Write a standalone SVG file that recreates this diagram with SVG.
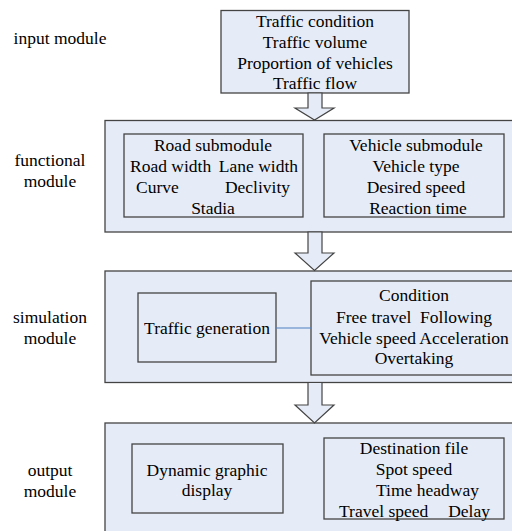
<svg xmlns="http://www.w3.org/2000/svg" width="512" height="531" viewBox="0 0 512 531">
<style>
text{font-family:'Liberation Serif','Times New Roman',Times,'DejaVu Serif',serif;font-size:17.5px;fill:#000}
.c{text-anchor:middle}
.box{fill:#E6ECF7;stroke:#444;stroke-width:1.3}
.arr{fill:#E6ECF7;stroke:#444;stroke-width:1.2;stroke-linejoin:miter}
</style>
<rect width="512" height="531" fill="#fff"/>
<g font-family="Liberation Serif, Times New Roman, serif">
<g id="labels">
<text x="60" y="44" class="c">input module</text>
<text x="50" y="166" class="c">functional</text>
<text x="50" y="187" class="c">module</text>
<text x="50" y="323" class="c">simulation</text>
<text x="50" y="344" class="c">module</text>
<text x="50" y="476" class="c">output</text>
<text x="50" y="497" class="c">module</text>
</g>
<g id="input">
<rect class="box" x="221" y="10.5" width="188" height="82.5"/>
<text x="315" y="27" class="c">Traffic condition</text>
<text x="315" y="48" class="c">Traffic volume</text>
<text x="315" y="69" class="c">Proportion of vehicles</text>
<text x="315" y="89" class="c">Traffic flow</text>
</g>
<g id="functional">
<rect class="box" x="105" y="120.5" width="420" height="111.5"/>
<g id="road">
<rect class="box" x="124" y="134" width="179" height="83"/>
<text x="213" y="151" class="c">Road submodule</text>
<text x="130" y="172">Road width</text>
<text x="298" y="172" text-anchor="end">Lane width</text>
<text x="136" y="193">Curve</text>
<text x="290" y="193" text-anchor="end">Declivity</text>
<text x="213" y="214" class="c">Stadia</text>
</g>
<g id="vehicle">
<rect class="box" x="324" y="134" width="180" height="83"/>
<text x="416" y="151" class="c">Vehicle submodule</text>
<text x="416" y="172" class="c">Vehicle type</text>
<text x="416" y="193" class="c">Desired speed</text>
<text x="418" y="214" class="c">Reaction time</text>
</g>
</g>
<g id="simulation">
<rect class="box" x="105" y="271" width="420" height="111.5"/>
<g id="traffic-generation">
<rect class="box" x="138" y="293" width="138" height="69"/>
<text x="207" y="334" class="c">Traffic generation</text>
</g>
<g id="condition">
<rect class="box" x="311" y="281" width="215" height="94"/>
<text x="414" y="301" class="c">Condition</text>
<text x="414" y="323" class="c" xml:space="preserve">Free travel  Following</text>
<text x="414" y="344" class="c">Vehicle speed Acceleration</text>
<text x="414" y="364" class="c">Overtaking</text>
</g>
</g>
<g id="output">
<rect class="box" x="105" y="423" width="420" height="120"/>
<g id="dynamic">
<rect class="box" x="132" y="444" width="151" height="69"/>
<text x="207" y="476" class="c">Dynamic graphic</text>
<text x="207" y="496" class="c">display</text>
</g>
<g id="destination">
<rect class="box" x="324" y="438" width="180" height="81"/>
<text x="414" y="454" class="c">Destination file</text>
<text x="414" y="475" class="c">Spot speed</text>
<text x="427.5" y="496" class="c">Time headway</text>
<text x="339" y="517">Travel speed</text>
<text x="490" y="517" text-anchor="end">Delay</text>
</g>
</g>
</g>
<g id="connectors">
<polygon class="arr" points="308,93 322,93 322,108 334,108 314.5,120 295,108 308,108"/>
<polygon class="arr" points="308,232 322,232 322,253 334,253 314.5,270.5 295,253 308,253"/>
<polygon class="arr" points="308,382.5 322,382.5 322,405 334,405 314.5,423 295,405 308,405"/>
<line x1="276" y1="328" x2="311" y2="328" stroke="#4F7FC0" stroke-width="1"/>
</g>
</svg>
